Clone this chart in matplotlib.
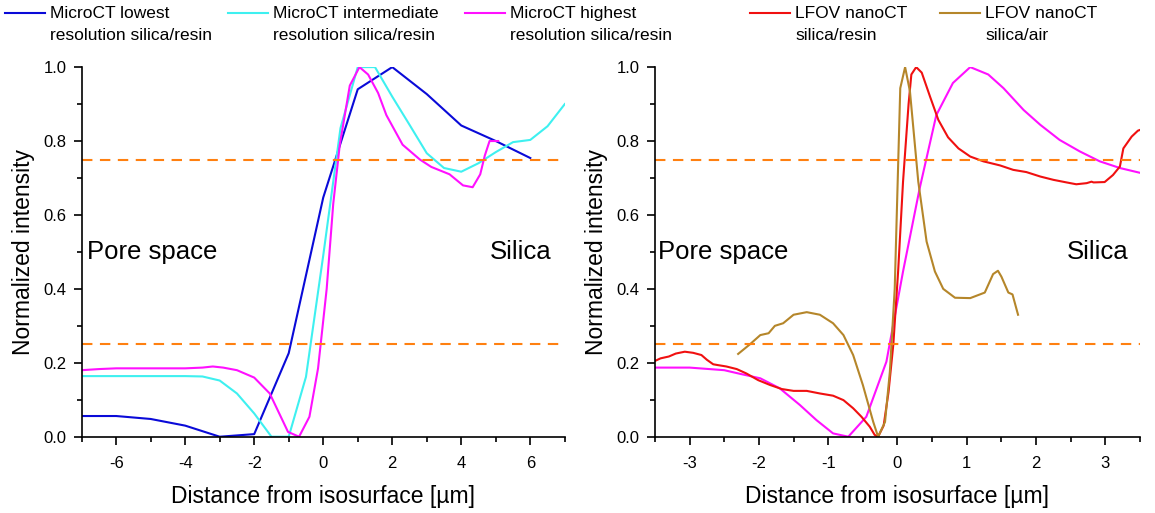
import matplotlib
matplotlib.use("Agg")
import matplotlib.pyplot as plt
from matplotlib.lines import Line2D
from matplotlib.ticker import MultipleLocator, FormatStrFormatter

plt.rcParams['font.family'] = ['Liberation Sans', 'DejaVu Sans']
plt.rcParams['axes.unicode_minus'] = False

# MicroCT profiles (left panel)
x_low = [-7, -6, -5, -4, -3, -2, -1, 0, 1, 2, 3, 4, 5, 6]
y_low = [0.056, 0.056, 0.048, 0.03, 0.0, 0.007, 0.226, 0.647, 0.94, 1.0,
         0.927, 0.842, 0.80, 0.754]

x_mid = [-7, -6.5, -6, -5.5, -5, -4.5, -4, -3.5, -3, -2.5, -2, -1.5, -1,
         -0.5, 0, 0.5, 1, 1.5, 2, 2.5, 3, 3.5, 4, 4.5, 5, 5.5, 6, 6.5, 7]
y_mid = [0.164, 0.164, 0.164, 0.164, 0.164, 0.164, 0.164, 0.163, 0.152,
         0.117, 0.063, 0.0, 0.0, 0.162, 0.49, 0.835, 1.0, 1.0, 0.92, 0.844,
         0.767, 0.727, 0.717, 0.74, 0.77, 0.797, 0.803, 0.84, 0.9]

x_high = [-7, -6.5, -6, -5, -4, -3.5, -3.2, -2.9, -2.5, -2.0, -1.55, -1.02,
          -0.7, -0.4, -0.15, 0.1, 0.29, 0.48, 0.77, 1.05, 1.3, 1.59, 1.83,
          2.3, 2.8, 3.13, 3.66, 4.05, 4.33, 4.55, 4.68, 4.82, 5.07]
y_high = [0.18, 0.183, 0.185, 0.185, 0.185, 0.187, 0.19, 0.187, 0.18, 0.16,
          0.117, 0.013, 0.0, 0.054, 0.185, 0.40, 0.63, 0.79, 0.95, 1.0, 0.98,
          0.93, 0.87, 0.79, 0.75, 0.73, 0.71, 0.68, 0.675, 0.71, 0.76, 0.80,
          0.80]

# Right panel profiles
x_high2 = [-3.5, -3.0, -2.5, -2.27, -1.98, -1.7, -1.41, -1.17, -0.93, -0.71,
           -0.45, -0.16, 0.08, 0.32, 0.56, 0.8, 1.05, 1.31, 1.53, 1.82, 2.06,
           2.34, 2.63, 2.92, 3.21, 3.5]
y_high2 = [0.187, 0.187, 0.18, 0.17, 0.158, 0.131, 0.086, 0.045, 0.009, 0.0,
           0.054, 0.203, 0.447, 0.672, 0.87, 0.957, 1.0, 0.98, 0.943, 0.884,
           0.844, 0.803, 0.772, 0.745, 0.727, 0.714]

x_resin = [-3.5, -3.42, -3.3, -3.2, -3.07, -2.95, -2.83, -2.75, -2.66, -2.6,
           -2.47, -2.32, -2.18, -2.01, -1.84, -1.67, -1.5, -1.31, -1.12,
           -0.93, -0.78, -0.64, -0.52, -0.4, -0.33, -0.28, -0.2, -0.13, -0.06,
           0.01, 0.08, 0.16, 0.2, 0.27, 0.35, 0.47, 0.59, 0.73, 0.88, 1.05,
           1.24, 1.48, 1.67, 1.86, 2.06, 2.25, 2.44, 2.58, 2.73, 2.8, 2.83,
           2.99, 3.11, 3.21, 3.26, 3.38, 3.47, 3.5]
y_resin = [0.205, 0.212, 0.217, 0.225, 0.23, 0.227, 0.221, 0.208, 0.196,
           0.194, 0.19, 0.183, 0.171, 0.153, 0.14, 0.129, 0.124, 0.124,
           0.117, 0.111, 0.099, 0.077, 0.054, 0.027, 0.005, 0.0, 0.03, 0.12,
           0.25, 0.45, 0.69, 0.9, 0.98, 1.0, 0.985, 0.92, 0.857, 0.81, 0.78,
           0.758, 0.745, 0.734, 0.722, 0.716, 0.704, 0.695, 0.688, 0.683,
           0.686, 0.69, 0.688, 0.689, 0.708, 0.731, 0.78, 0.812, 0.828, 0.83]

x_air = [-2.3, -2.13, -1.98, -1.86, -1.77, -1.65, -1.5, -1.31, -1.12, -0.93,
         -0.78, -0.64, -0.5, -0.35, -0.28, -0.18, -0.11, -0.04, 0.04, 0.11,
         0.18, 0.3, 0.42, 0.54, 0.66, 0.83, 1.05, 1.26, 1.38, 1.45, 1.5, 1.6,
         1.66, 1.74]
y_air = [0.224, 0.25, 0.275, 0.28, 0.30, 0.307, 0.33, 0.337, 0.33, 0.307,
         0.275, 0.221, 0.14, 0.04, 0.0, 0.04, 0.176, 0.40, 0.943, 1.0, 0.934,
         0.69, 0.528, 0.447, 0.40, 0.376, 0.375, 0.39, 0.44, 0.449, 0.433,
         0.39, 0.385, 0.33]

labels = ["MicroCT lowest\nresolution silica/resin",
          "MicroCT intermediate\nresolution silica/resin",
          "MicroCT highest\nresolution silica/resin",
          "LFOV nanoCT\nsilica/resin",
          "LFOV nanoCT\nsilica/air"]
colors = ["#0a0ad8", "#3ef0f0", "#ff10ff", "#f01010", "#b5862a"]
thresholds = [0.25, 0.75]

fig = plt.figure(figsize=(11.55, 5.13), dpi=100)
ax1 = fig.add_axes([0.0707, 0.1487, 0.4183, 0.7205])
ax2 = fig.add_axes([0.5671, 0.1487, 0.4199, 0.7205])

lw = 1.5
ax1.plot(x_low, y_low, color=colors[0], lw=lw)
ax1.plot(x_mid, y_mid, color=colors[1], lw=lw)
ax1.plot(x_high, y_high, color=colors[2], lw=lw)
ax2.plot(x_high2, y_high2, color=colors[2], lw=lw)
ax2.plot(x_resin, y_resin, color=colors[3], lw=lw)
ax2.plot(x_air, y_air, color=colors[4], lw=lw)

for ax, xmax, major, minor, pore_x, sil_x in [(ax1, 7, 2, 1, -6.85, 6.62),
                                              (ax2, 3.5, 1, 0.5, -3.45, 3.33)]:
    for t in thresholds:
        ax.axhline(t, color="#ff8010", lw=1.5, linestyle=(0, (5, 3.6)))
    ax.set_xlim(-xmax, xmax)
    ax.set_ylim(0, 1.0)
    ax.xaxis.set_major_locator(MultipleLocator(major))
    ax.xaxis.set_minor_locator(MultipleLocator(minor))
    ax.yaxis.set_major_locator(MultipleLocator(0.2))
    ax.yaxis.set_minor_locator(MultipleLocator(0.1))
    ax.yaxis.set_major_formatter(FormatStrFormatter('%.1f'))
    ax.spines['top'].set_visible(False)
    ax.spines['right'].set_visible(False)
    for s in ('left', 'bottom'):
        ax.spines[s].set_linewidth(1.2)
    ax.tick_params(which='major', direction='out', length=6, width=1.2,
                   labelsize=12)
    ax.tick_params(which='minor', direction='out', length=3.5, width=1.2)
    ax.tick_params(axis='x', which='major', pad=8)
    ax.tick_params(axis='y', which='major', pad=5)
    ax.set_xlabel("Distance from isosurface [µm]", fontsize=16.5, labelpad=10)
    ax.set_ylabel("Normalized intensity", fontsize=16.5, labelpad=6)
    ax.text(pore_x, 0.5, "Pore space", fontsize=18.5, va='center', ha='left')
    ax.text(sil_x, 0.5, "Silica", fontsize=18.5, va='center', ha='right')

# legend row across the top
handle_x = [5, 228, 465, 750, 940]
for hx, lab, c in zip(handle_x, labels, colors):
    y = 1 - 13 / 513
    fig.add_artist(Line2D([hx / 1155, (hx + 40) / 1155], [y, y],
                          color=c, lw=1.5))
    fig.text((hx + 45) / 1155, 1 - 6 / 513, lab, fontsize=12.5, va='top',
             ha='left', linespacing=1.6)

fig.savefig("out.png", dpi=100)
